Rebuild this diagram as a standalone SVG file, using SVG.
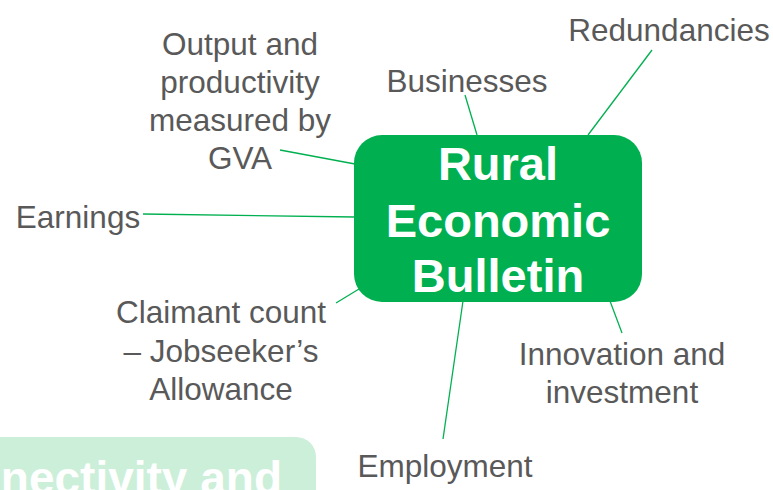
<svg xmlns="http://www.w3.org/2000/svg" width="773" height="490" viewBox="0 0 773 490">
  <style>
    .lbl { font-family: "Liberation Sans", Arial, sans-serif; font-size: 31.5px; fill: #595959; text-anchor: middle; }
    .hub { font-family: "Liberation Sans", Arial, sans-serif; font-size: 47px; font-weight: bold; fill: #ffffff; text-anchor: middle; }
    .conn line { stroke: #00B050; stroke-width: 1.3; fill: none; }
  </style>
  <rect width="773" height="490" fill="#ffffff"/>
  <g id="connectors" class="conn">
    <line x1="465" y1="95" x2="477" y2="135"/>
    <line x1="652" y1="50" x2="588" y2="135"/>
    <line x1="280" y1="150" x2="355" y2="164"/>
    <line x1="143" y1="214" x2="355" y2="217"/>
    <line x1="336" y1="303" x2="359" y2="289"/>
    <line x1="463" y1="301" x2="443" y2="439"/>
    <line x1="610" y1="301" x2="622" y2="333"/>
  </g>
  <g id="faded-node">
    <rect x="-30" y="437" width="346" height="90" rx="20" fill="#CCEFD9"/>
    <text x="282" y="494" text-anchor="end" style="font-family: 'Liberation Sans', Arial, sans-serif; font-size: 46px; font-weight: bold; fill: #ffffff;">nectivity and</text>
  </g>
  <g id="hub">
    <rect x="354" y="135" width="288" height="167" rx="28" fill="#00B050"/>
    <text class="hub" x="498" y="180">Rural</text>
    <text class="hub" x="498" y="237">Economic</text>
    <text class="hub" x="498" y="292">Bulletin</text>
  </g>
  <g id="redundancies"><text class="lbl" x="669" y="41">Redundancies</text></g>
  <g id="businesses"><text class="lbl" x="467" y="92">Businesses</text></g>
  <g id="output">
    <text class="lbl" x="240" y="55">Output and</text>
    <text class="lbl" x="240" y="93">productivity</text>
    <text class="lbl" x="240" y="131">measured by</text>
    <text class="lbl" x="240" y="169">GVA</text>
  </g>
  <g id="earnings"><text class="lbl" x="78" y="228">Earnings</text></g>
  <g id="claimant">
    <text class="lbl" x="221" y="323">Claimant count</text>
    <text class="lbl" x="221" y="362">– Jobseeker’s</text>
    <text class="lbl" x="221" y="400">Allowance</text>
  </g>
  <g id="innovation">
    <text class="lbl" x="622" y="365">Innovation and</text>
    <text class="lbl" x="622" y="403">investment</text>
  </g>
  <g id="employment"><text class="lbl" x="445" y="477">Employment</text></g>
</svg>
